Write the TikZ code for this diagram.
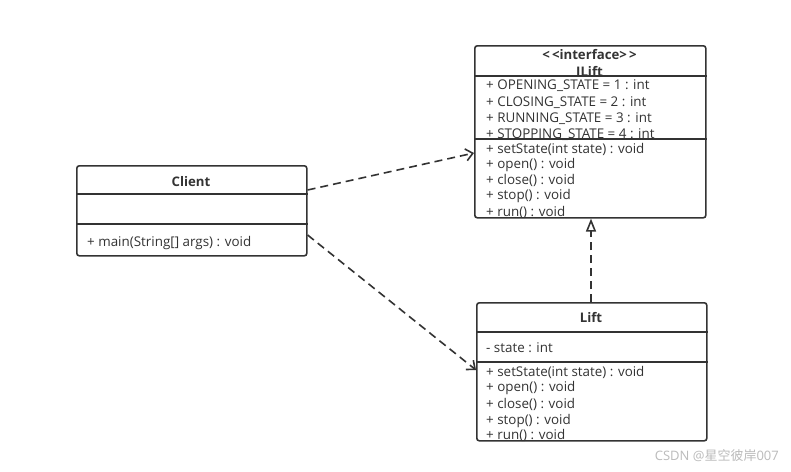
\documentclass[tikz,border=0pt]{standalone}
\usepackage{fontspec}
\setmainfont{Open Sans}
\newfontfamily\cjk{Noto Sans CJK SC}
\usetikzlibrary{arrows.meta,positioning,calc}
\definecolor{umlgray}{HTML}{333333}
\definecolor{markgray}{HTML}{BBBBBB}
\tikzset{
  class box/.style={
    draw=umlgray,
    line width=1.6pt,
    rounded corners=2.5pt,
    anchor=north west,
    inner sep=0pt
  },
  member/.style={
    anchor=base west,
    inner sep=0pt,
    text=umlgray,
    font=\fontsize{13.4}{15}\selectfont
  },
  class name/.style={
    member,
    anchor=base,
    font=\fontsize{13.2}{15}\selectfont\bfseries
  },
  depends/.style={
    draw=umlgray,
    line width=1.6pt,
    dash pattern=on 8pt off 5pt,
    -{Straight Barb[length=7pt,width=12pt]}
  },
  realizes/.style={
    depends,
    -{Triangle[open,length=13pt,width=10pt]}
  }
}
\begin{document}
\begin{tikzpicture}[x=1pt, y=-1pt]
 \path[fill=white] (0,0) rectangle (791,471);
 \useasboundingbox (0,0) rectangle (791,471);
 % classes
 \node[class box, minimum width=231pt, minimum height=172pt] (ilift) at (474,45) {};
 \node[class box, minimum width=230pt, minimum height=90pt] (client) at (76,165) {};
 \node[class box, minimum width=230pt, minimum height=138pt] (lift) at (476,302) {};
 \draw[umlgray, line width=1.6pt]
  (ilift.west |- 0,76) -- (ilift.east |- 0,76)
  (ilift.west |- 0,139) -- (ilift.east |- 0,139)
  (client.west |- 0,194) -- (client.east |- 0,194)
  (client.west |- 0,224) -- (client.east |- 0,224)
  (lift.west |- 0,332) -- (lift.east |- 0,332)
  (lift.west |- 0,362) -- (lift.east |- 0,362);
 % ILift
 \node[class name] (ilift stereo) at (589.5,59.5) {<{}\,<interface>\,{}>};
 \node[class name] (ilift name) at (589.5,76) {ILift};
 \node[member] (ilift a1) at (486,89.5) {+ OPENING\_STATE = 1 : int};
 \node[member] (ilift a2) at (486,106) {+ CLOSING\_STATE = 2 : int};
 \node[member] (ilift a3) at (486,122) {+ RUNNING\_STATE = 3 : int};
 \node[member] (ilift a4) at (486,138) {+ STOPPING\_STATE = 4 : int};
 \node[member] (ilift m1) at (486,153) {+ setState(int state) : void};
 \node[member] (ilift m2) at (486,168.5) {+ open() : void};
 \node[member] (ilift m3) at (486,184) {+ close() : void};
 \node[member] (ilift m4) at (486,199.5) {+ stop() : void};
 \node[member] (ilift m5) at (486,216) {+ run() : void};
 % Client
 \node[class name] (client name) at (191,186) {Client};
 \node[member] (client m1) at (87,246) {+ main(String[] args) : void};
 % Lift
 \node[class name] (lift name) at (591,322) {Lift};
 \node[member] (lift a1) at (486,352) {- state : int};
 \node[member] (lift m1) at (486,376) {+ setState(int state) : void};
 \node[member] (lift m2) at (486,391.5) {+ open() : void};
 \node[member] (lift m3) at (486,408) {+ close() : void};
 \node[member] (lift m4) at (486,424) {+ stop() : void};
 \node[member] (lift m5) at (486,439.5) {+ run() : void};
 % relations
 \draw[depends] ($(client.north east)+(0,25)$) -- ($(ilift.north west)+(0,108)$);
 \draw[depends] ($(client.north east)+(0,70)$) -- ($(lift.north west)+(0,68)$);
 \draw[realizes] (lift.north -| 591,0) -- (ilift.south -| 591,0);
 \node[anchor=east, inner sep=0pt, text=markgray, font=\fontsize{13}{14}\selectfont] (mark) at (779,456) {CSDN @{\cjk 星空彼岸}007};
\end{tikzpicture}
\end{document}
